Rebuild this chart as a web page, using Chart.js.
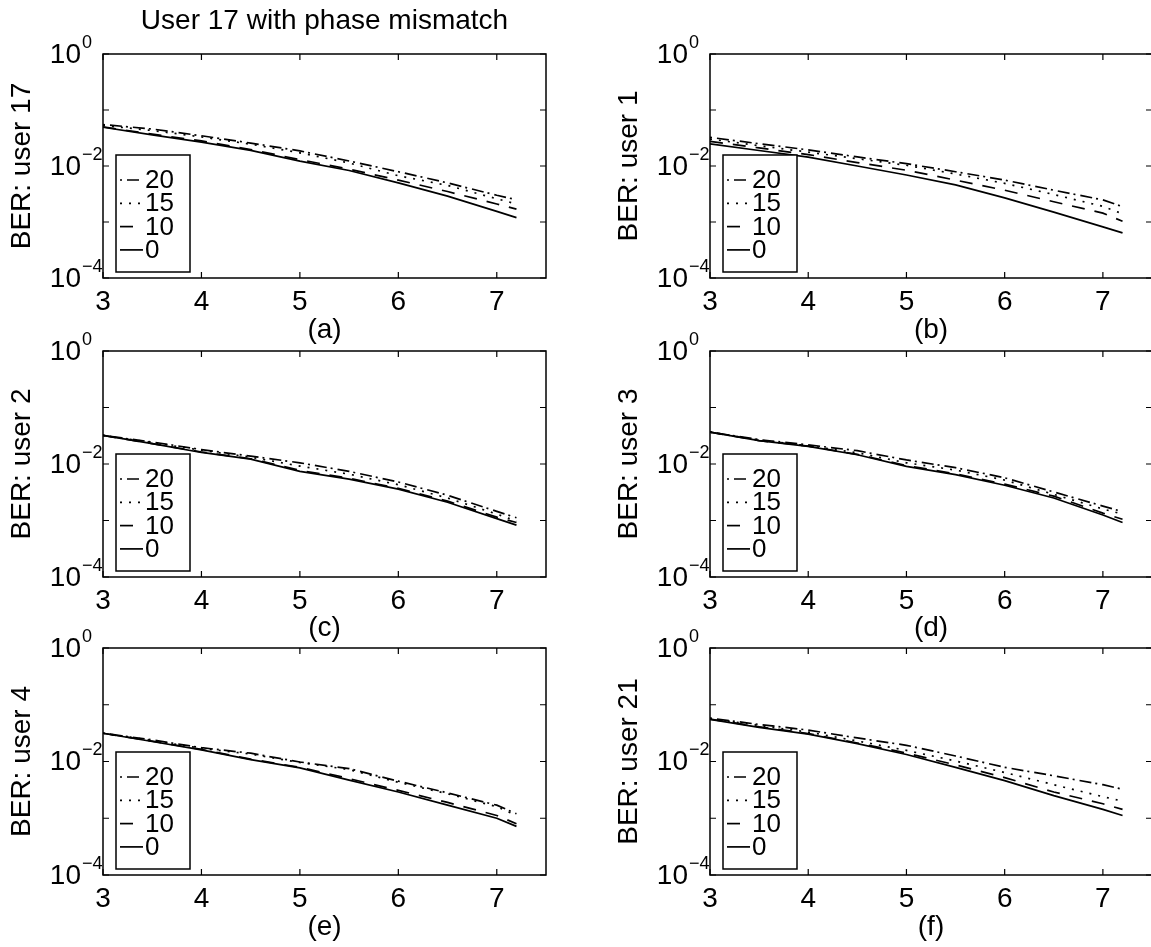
<!DOCTYPE html>
<html>
<head>
<meta charset="utf-8">
<title>User 17 with phase mismatch</title>
<script src="https://cdn.jsdelivr.net/npm/chart.js@4.4.1/dist/chart.umd.min.js"></script>
<style>
  html, body { margin: 0; padding: 0; background: #fff; overflow: hidden; }
  body { width: 1151px; height: 947px; position: relative; }
  canvas { position: absolute; }
</style>
</head>
<body>
<script>
// BER vs SNR for several users, one curve per phase mismatch (degrees)

const mainTitle = 'User 17 with phase mismatch';
const snrValues = [3, 3.5, 4, 4.5, 5, 5.5, 6, 6.5, 7, 7.2];
const phaseLabels = ['20', '15', '10', '0'];
const xTickValues = [3, 4, 5, 6, 7];
const yTickValues = [1e-4, 1e-3, 1e-2, 1e-1, 1];
const yLabelValues = [1, 1e-2, 1e-4];
const yLabelExponents = ['0', '\u22122', '\u22124'];
const panelUsers = ['17', '1', '2', '3', '4', '21'];
const panelCaptions = ['(a)', '(b)', '(c)', '(d)', '(e)', '(f)'];

// user 17
const user17_20 = [0.055, 0.0457, 0.0347, 0.0257, 0.0186, 0.0123, 0.0079, 0.0050, 0.0030, 0.0025];
const user17_15 = [0.053, 0.043, 0.033, 0.0245, 0.0172, 0.0113, 0.0067, 0.0045, 0.0026, 0.0021];
const user17_10 = [0.050, 0.037, 0.028, 0.0197, 0.0130, 0.0088, 0.0056, 0.0035, 0.0021, 0.0017];
const user17_0  = [0.0492, 0.036, 0.0267, 0.0190, 0.0122, 0.0083, 0.0050, 0.0029, 0.00155, 0.0012];
// user 1
const user1_20 = [0.0325, 0.025, 0.0194, 0.0145, 0.0110, 0.0079, 0.0056, 0.0037, 0.00248, 0.00188];
const user1_15 = [0.0303, 0.023, 0.0177, 0.0135, 0.0103, 0.0072, 0.0049, 0.0031, 0.0019, 0.0014];
const user1_10 = [0.0276, 0.021, 0.0160, 0.0115, 0.0084, 0.0056, 0.0037, 0.0023, 0.00144, 0.00103];
const user1_0  = [0.0248, 0.0189, 0.0144, 0.0100, 0.0069, 0.0046, 0.0027, 0.0015, 0.00082, 0.00064];
// user 2
const user2_20 = [0.032, 0.0245, 0.018, 0.0138, 0.0105, 0.0074, 0.0048, 0.0028, 0.00145, 0.00112];
const user2_15 = [0.032, 0.024, 0.0175, 0.0132, 0.0092, 0.0066, 0.0043, 0.0025, 0.0013, 0.00098];
const user2_10 = [0.032, 0.023, 0.0163, 0.0124, 0.0077, 0.0056, 0.0037, 0.0022, 0.00115, 0.00092];
const user2_0  = [0.032, 0.023, 0.0160, 0.0122, 0.0074, 0.0054, 0.0036, 0.0021, 0.00108, 0.00083];
// user 3
const user3_20 = [0.0367, 0.027, 0.0218, 0.0172, 0.0118, 0.0086, 0.0057, 0.0032, 0.0018, 0.00143];
const user3_15 = [0.0367, 0.0265, 0.021, 0.0158, 0.0105, 0.0078, 0.0052, 0.0029, 0.0016, 0.0013];
const user3_10 = [0.0367, 0.026, 0.0207, 0.0148, 0.0094, 0.0067, 0.0044, 0.0027, 0.00135, 0.00105];
const user3_0  = [0.0367, 0.026, 0.0205, 0.0146, 0.0091, 0.0065, 0.0042, 0.0025, 0.00125, 0.00092];
// user 4
const user4_20 = [0.0315, 0.024, 0.0175, 0.0140, 0.0098, 0.0075, 0.0045, 0.0028, 0.0017, 0.0012];
const user4_15 = [0.0315, 0.0235, 0.017, 0.0135, 0.0096, 0.0072, 0.0043, 0.0027, 0.0016, 0.00112];
const user4_10 = [0.0315, 0.0228, 0.0163, 0.0110, 0.0079, 0.0050, 0.0031, 0.0019, 0.00112, 0.0008];
const user4_0  = [0.0315, 0.0225, 0.016, 0.0108, 0.0077, 0.0047, 0.0029, 0.0017, 0.0010, 0.00072];
// user 21
const user21_20 = [0.058, 0.045, 0.0358, 0.026, 0.0193, 0.0125, 0.0079, 0.0056, 0.0039, 0.00325];
const user21_15 = [0.057, 0.043, 0.033, 0.023, 0.0157, 0.0102, 0.0064, 0.0039, 0.0024, 0.0020];
const user21_10 = [0.056, 0.041, 0.031, 0.0212, 0.0141, 0.0087, 0.0052, 0.0029, 0.0018, 0.00143];
const user21_0  = [0.0554, 0.040, 0.0303, 0.0207, 0.0133, 0.0079, 0.0046, 0.0025, 0.00143, 0.00112];

const panelSeries = [
    [user17_20, user17_15, user17_10, user17_0],
    [user1_20, user1_15, user1_10, user1_0],
    [user2_20, user2_15, user2_10, user2_0],
    [user3_20, user3_15, user3_10, user3_0],
    [user4_20, user4_15, user4_10, user4_0],
    [user21_20, user21_15, user21_10, user21_0]
];

// line styles: dash-dot, dotted, dashed, solid
const dashStyles = [[2, 5, 12, 4], [2, 7], [13, 10], []];

// canvas placement
const columns = [
    { left: 0, width: 550, padRight: 4 },
    { left: 607, width: 545, padRight: 0 }
];
const rows = [
    { top: 0, height: 350, padTop: 54, axisH: 72 },
    { top: 321, height: 327, padTop: 30, axisH: 71 },
    { top: 618, height: 329, padTop: 30, axisH: 72 }
];

const FONT = '"Liberation Sans", Arial, Helvetica, sans-serif';
Chart.defaults.font.family = FONT;
Chart.defaults.color = '#000';

// box, inner ticks, y labels with exponents, legend
const matlabFrame = {
    id: 'matlabFrame',
    afterDatasetsDraw(chart) {
        const { ctx, chartArea: a, scales } = chart;
        ctx.save();
        ctx.strokeStyle = '#000';
        ctx.lineWidth = 1.5;
        ctx.setLineDash([]);
        ctx.strokeRect(a.left, a.top, a.right - a.left, a.bottom - a.top);

        ctx.lineWidth = 1.2;
        ctx.beginPath();
        scales.x.ticks.forEach(t => {
            const px = scales.x.getPixelForValue(t.value);
            ctx.moveTo(px, a.bottom); ctx.lineTo(px, a.bottom - 6);
            ctx.moveTo(px, a.top); ctx.lineTo(px, a.top + 6);
        });
        scales.y.ticks.forEach(t => {
            const py = scales.y.getPixelForValue(t.value);
            ctx.moveTo(a.left, py); ctx.lineTo(a.left + 6, py);
            ctx.moveTo(a.right, py); ctx.lineTo(a.right - 6, py);
        });
        ctx.stroke();

        // y tick labels: 10 with superscript exponent
        ctx.fillStyle = '#000';
        yLabelValues.forEach((v, i) => {
            const py = scales.y.getPixelForValue(v);
            ctx.font = '28px ' + FONT;
            ctx.textAlign = 'right';
            ctx.textBaseline = 'middle';
            ctx.fillText('10', a.left - 22, py + 1);
            ctx.font = '18px ' + FONT;
            ctx.textAlign = 'left';
            ctx.fillText(yLabelExponents[i], a.left - 21, py - 11);
        });

        // legend box in lower left corner
        const lx = a.left + 13, lw = 74, lh = 117;
        const ly = a.bottom - 6 - lh;
        ctx.fillStyle = '#fff';
        ctx.fillRect(lx, ly, lw, lh);
        ctx.lineWidth = 1.5;
        ctx.strokeRect(lx, ly, lw, lh);
        chart.data.datasets.forEach((ds, i) => {
            const cy = ly + 25 + i * 23.3;
            ctx.beginPath();
            ctx.lineWidth = ds.borderWidth;
            ctx.setLineDash(ds.borderDash);
            ctx.moveTo(lx + 4, cy);
            ctx.lineTo(lx + 27, cy);
            ctx.stroke();
            ctx.setLineDash([]);
            ctx.fillStyle = '#000';
            ctx.font = '26px ' + FONT;
            ctx.textAlign = 'left';
            ctx.textBaseline = 'middle';
            ctx.fillText(ds.label, lx + 29, cy + 1);
        });
        ctx.restore();
    }
};

function makePanel(idx) {
    const col = columns[idx % 2];
    const row = rows[Math.floor(idx / 2)];
    const canvas = document.createElement('canvas');
    canvas.width = col.width;
    canvas.height = row.height;
    canvas.style.left = col.left + 'px';
    canvas.style.top = row.top + 'px';
    document.body.appendChild(canvas);

    const datasets = panelSeries[idx].map((series, i) => ({
        label: phaseLabels[i],
        data: snrValues.map((x, k) => ({ x: x, y: series[k] })),
        borderColor: '#000',
        borderWidth: 1.7,
        borderDash: dashStyles[i],
        pointRadius: 0,
        fill: false,
        tension: 0
    }));

    const hasTitle = idx === 0;

    return new Chart(canvas, {
        type: 'line',
        data: { datasets: datasets },
        options: {
            responsive: false,
            animation: false,
            layout: {
                padding: { top: hasTitle ? 0 : row.padTop, left: 0, right: col.padRight, bottom: 0 }
            },
            plugins: {
                legend: { display: false },
                tooltip: { enabled: false },
                title: {
                    display: hasTitle,
                    text: mainTitle,
                    fullSize: false,
                    color: '#000',
                    font: { size: 28, weight: 'normal' },
                    padding: { top: 4, bottom: 16.4 }
                }
            },
            scales: {
                x: {
                    type: 'linear',
                    min: 3,
                    max: 7.5,
                    afterBuildTicks: (scale) => {
                        scale.ticks = xTickValues.map(v => ({ value: v }));
                    },
                    afterFit: (scale) => { scale.height = row.axisH; },
                    ticks: {
                        font: { size: 28 },
                        color: '#000',
                        padding: 7,
                        maxRotation: 0,
                        autoSkip: false,
                        callback: (v) => String(v)
                    },
                    grid: { display: false, drawTicks: false },
                    border: { display: false },
                    title: {
                        display: true,
                        text: panelCaptions[idx],
                        color: '#000',
                        font: { size: 28 },
                        padding: { top: 0, bottom: 3 }
                    }
                },
                y: {
                    type: 'logarithmic',
                    min: 1e-4,
                    max: 1,
                    afterBuildTicks: (scale) => {
                        scale.ticks = yTickValues.map(v => ({ value: v }));
                    },
                    afterFit: (scale) => { scale.width = 103; },
                    ticks: { display: false },
                    grid: { display: false, drawTicks: false },
                    border: { display: false },
                    title: {
                        display: true,
                        text: 'BER: user ' + panelUsers[idx],
                        color: '#000',
                        font: { size: 28 },
                        padding: { top: 5, bottom: 0 }
                    }
                }
            }
        },
        plugins: [matlabFrame]
    });
}

for (let i = 0; i < 6; i++) {
    makePanel(i);
}
</script>
</body>
</html>
